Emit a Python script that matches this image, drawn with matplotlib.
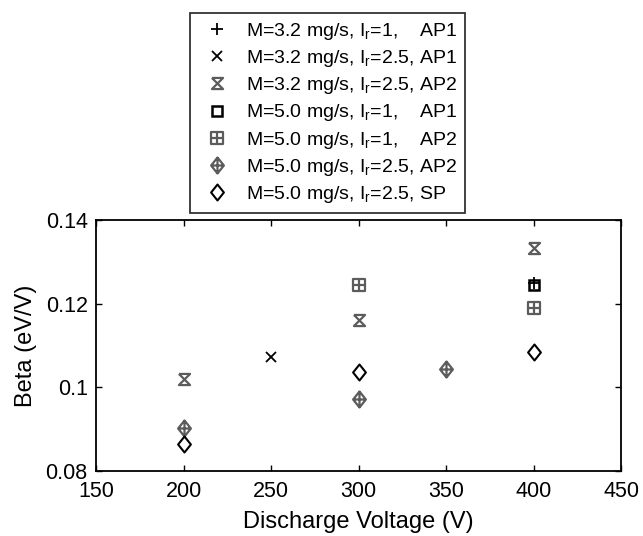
import numpy as np
import matplotlib
matplotlib.use("Agg")
import matplotlib.pyplot as plt
from matplotlib.path import Path

plt.rcParams["font.family"] = ["Liberation Sans", "DejaVu Sans"]
plt.rcParams["mathtext.fontset"] = "custom"
plt.rcParams["mathtext.rm"] = "Liberation Sans"
plt.rcParams["mathtext.it"] = "Liberation Sans"

# discharge voltage (V) and beta (eV/V) for each test case
labels = [
    r"M=3.2 mg/s, I$_{\mathrm{r}}$=1,    AP1",
    r"M=3.2 mg/s, I$_{\mathrm{r}}$=2.5, AP1",
    r"M=3.2 mg/s, I$_{\mathrm{r}}$=2.5, AP2",
    r"M=5.0 mg/s, I$_{\mathrm{r}}$=1,    AP1",
    r"M=5.0 mg/s, I$_{\mathrm{r}}$=1,    AP2",
    r"M=5.0 mg/s, I$_{\mathrm{r}}$=2.5, AP2",
    r"M=5.0 mg/s, I$_{\mathrm{r}}$=2.5, SP",
]
v_m32_i1_ap1 = [400]
b_m32_i1_ap1 = [0.1250]
v_m32_i25_ap1 = [250]
b_m32_i25_ap1 = [0.1072]
v_m32_i25_ap2 = [200, 300, 400]
b_m32_i25_ap2 = [0.1020, 0.1161, 0.1334]
v_m50_i1_ap1 = [400]
b_m50_i1_ap1 = [0.1245]
v_m50_i1_ap2 = [300, 400]
b_m50_i1_ap2 = [0.1245, 0.1190]
v_m50_i25_ap2 = [200, 300, 350]
b_m50_i25_ap2 = [0.0902, 0.0973, 0.1044]
v_m50_i25_sp = [200, 300, 400]
b_m50_i25_sp = [0.0864, 0.1036, 0.1084]

# custom marker shapes
hourglass = Path([(-1, 1), (1, 1), (-1, -1), (1, -1), (-1, 1)])
sq_plus = Path(
    [(-1, -1), (1, -1), (1, 1), (-1, 1), (-1, -1), (0, -1), (0, 1), (-1, 0), (1, 0)],
    [1, 2, 2, 2, 79, 1, 2, 1, 2],
)
diamond = Path([(0, 1.25), (1, 0), (0, -1.25), (-1, 0), (0, 1.25)], [1, 2, 2, 2, 79])
dia_plus = Path(
    [(0, 1.25), (1, 0), (0, -1.25), (-1, 0), (0, 1.25), (0, 1.25), (0, -1.25), (-1, 0), (1, 0)],
    [1, 2, 2, 2, 79, 1, 2, 1, 2],
)

gray = "#5c5c5c"
series = [
    (v_m32_i1_ap1, b_m32_i1_ap1, "+", "k", 9, 1.3),
    (v_m32_i25_ap1, b_m32_i25_ap1, "x", "k", 7, 1.3),
    (v_m32_i25_ap2, b_m32_i25_ap2, hourglass, gray, 8, 1.6),
    (v_m50_i1_ap1, b_m50_i1_ap1, "s", "k", 7.5, 1.8),
    (v_m50_i1_ap2, b_m50_i1_ap2, sq_plus, gray, 8.5, 1.6),
    (v_m50_i25_ap2, b_m50_i25_ap2, dia_plus, gray, 11.5, 1.6),
    (v_m50_i25_sp, b_m50_i25_sp, diamond, "k", 11.5, 1.5),
]

fig = plt.figure(figsize=(6.43, 5.36), dpi=100)
ax = fig.add_axes([96 / 643, 1 - 471 / 536, 525 / 643, 251 / 536])

for (x, y, m, c, ms, mew), lab in zip(series, labels):
    ax.plot(x, y, ls="none", marker=m, color=c, ms=ms, mew=mew,
            mfc="none", label=lab)

ax.set_xlim(150, 450)
ax.set_ylim(0.08, 0.14)
ax.set_xticks([150, 200, 250, 300, 350, 400, 450])
ax.set_yticks([0.08, 0.10, 0.12, 0.14])
ax.set_yticklabels(["0.08", "0.1", "0.12", "0.14"])
ax.tick_params(direction="in", top=True, right=True, labelsize=15.5,
               length=4, width=1)
ax.tick_params(axis="x", pad=7)
ax.tick_params(axis="y", pad=6)
for s in ax.spines.values():
    s.set_linewidth(1.3)
ax.set_xlabel("Discharge Voltage (V)", fontsize=17, labelpad=7)
ax.set_ylabel("Beta (eV/V)", fontsize=17, labelpad=6)

leg = fig.legend(loc="upper left", bbox_to_anchor=(190 / 643, 1 - 13 / 536),
                 fontsize=14, frameon=True, fancybox=False, edgecolor="k",
                 borderpad=0.4, handlelength=2.0, handletextpad=0.5,
                 labelspacing=0.32, borderaxespad=0)
leg.get_frame().set_linewidth(1.3)

fig.savefig("out.png", dpi=100)
